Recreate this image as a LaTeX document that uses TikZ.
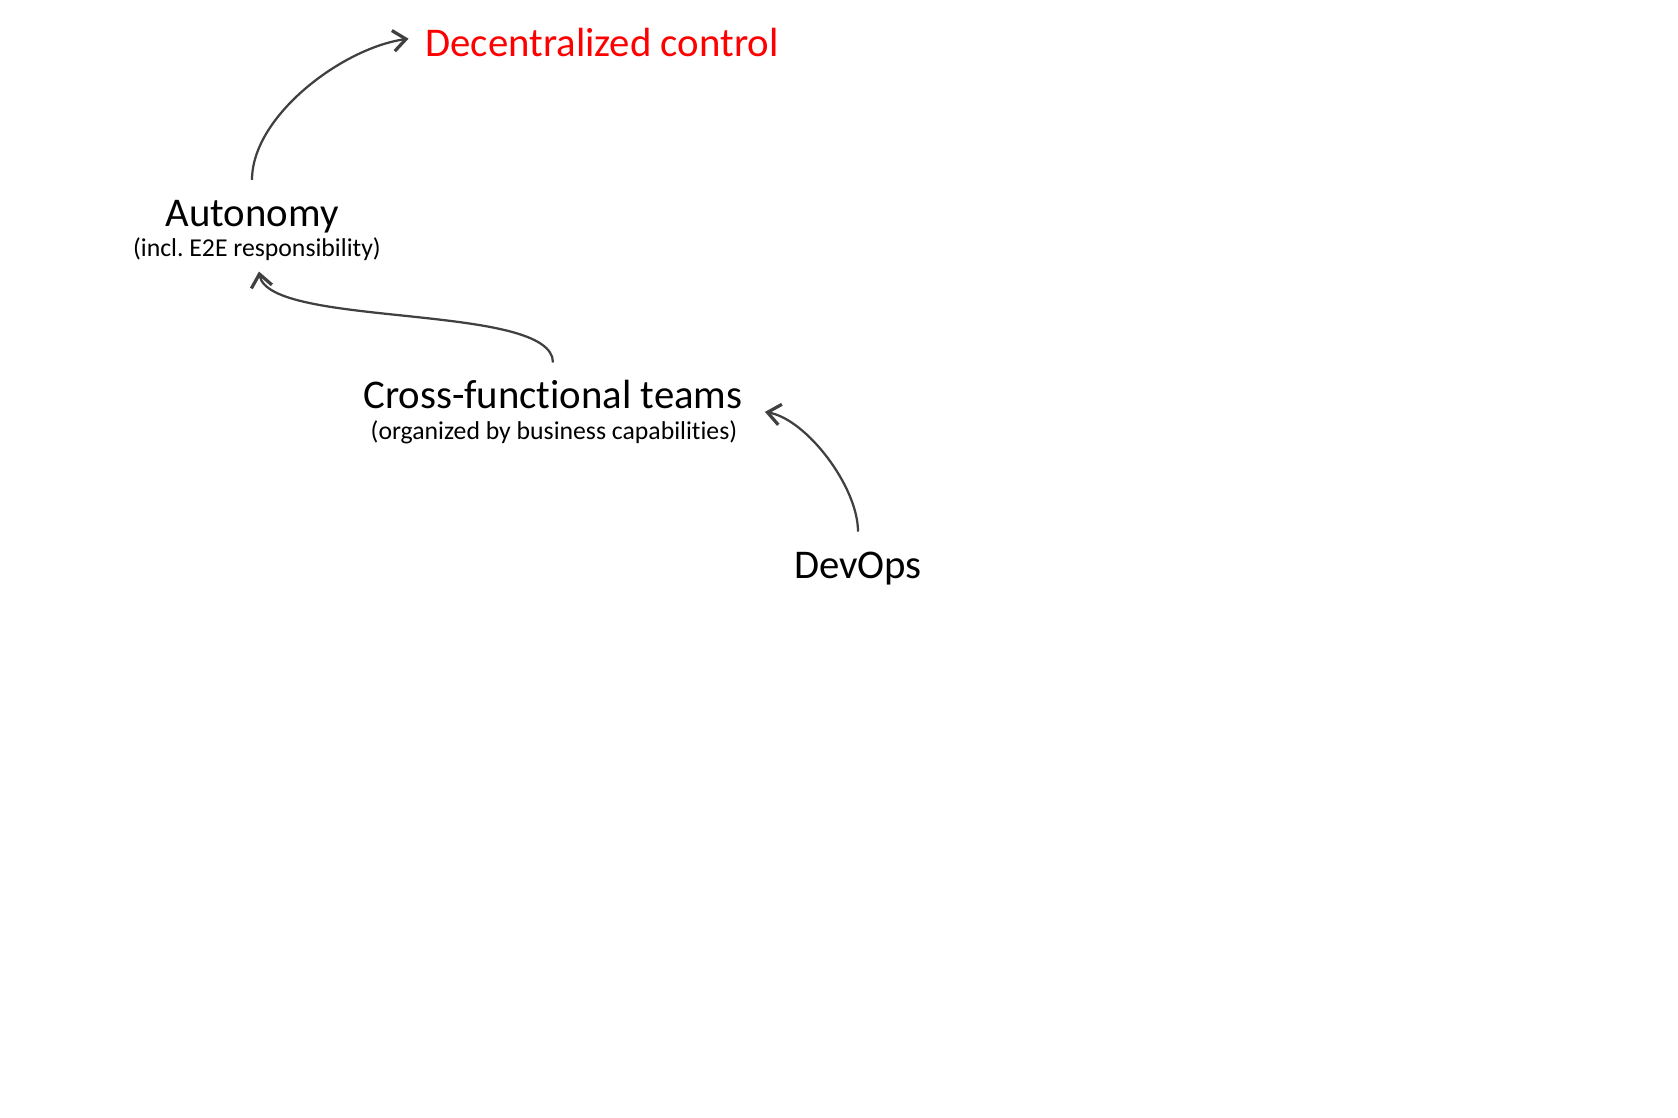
\documentclass[tikz,border=0pt]{standalone}
\usepackage{fontspec}
\setmainfont{Carlito}[Ligatures=NoCommon]
\usetikzlibrary{positioning,arrows.meta}
\definecolor{arrowgray}{HTML}{404040}
\tikzset{
  linkarrow/.style={-{Straight Barb[length=3.2mm, width=5.2mm, line width=2.3pt]}, line width=1.6pt, draw=arrowgray},
  topic/.style={inner sep=0pt, anchor=base, font=\fontsize{29}{33}\selectfont},
  subnote/.style={inner sep=0pt, anchor=base, font=\fontsize{18.3}{22}\selectfont},
  goal/.style={topic, text=red}
}
\begin{document}
\begin{tikzpicture}[x=0.025cm, y=0.025cm]
  \useasboundingbox (0,0) rectangle (1678,-1118);
  \node[goal] (decentral) at (602,-56) {Decentralized control};
  \node[topic] (autonomy) at (252,-226) {Autonomy};
  \node[subnote] (autonomynote) at (257,-256) {(incl.\ E2E responsibility)};
  \node[topic] (crossfunc) at (553,-408) {Cross-functional teams};
  \node[subnote] (crossnote) at (554,-439) {(organized by business capabilities)};
  \node[topic] (devops) at (858,-578) {DevOps};
  \draw[linkarrow, shorten <=14pt, shorten >=12pt] (autonomy.north) to[out=90, in=188, looseness=0.9] ([yshift=4pt]decentral.west);
  \draw[linkarrow, shorten <=12pt, shorten >=8pt] (crossfunc.north) .. controls +(0,77) and +(12,-68) .. (autonomynote.south);
  \draw[linkarrow, shorten <=14pt, shorten >=16pt] (devops.north) to[out=90, in=-10, looseness=0.9] (crossfunc.base east);
\end{tikzpicture}
\end{document}
